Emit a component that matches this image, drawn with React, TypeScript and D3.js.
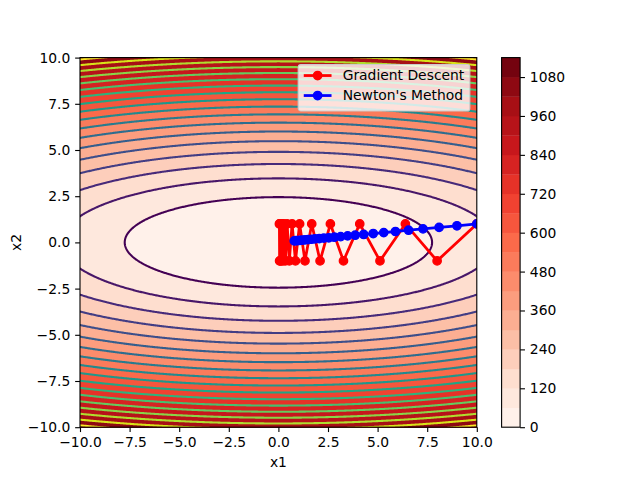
import React, { useEffect, useRef } from "react";
import * as d3 from "d3";

// objective f(x1, x2) = a*x1^2 + b*x2^2
const coefA = 1;
const coefB = 10;

const fillLevels = [0, 60, 120, 180, 240, 300, 360, 420, 480, 540, 600, 660, 720, 780, 840, 900, 960, 1020, 1080, 1140];
const lineLevels = [60, 120, 180, 240, 300, 360, 420, 480, 540, 600, 660, 720, 780, 840, 900, 960, 1020, 1080];
const axisTicks = [-10, -7.5, -5, -2.5, 0, 2.5, 5, 7.5, 10];
const cbarTicks = [0, 120, 240, 360, 480, 600, 720, 840, 960, 1080];

// gradient descent iterates
const gdX = [10, 8, 6.4, 5.12, 4.1, 3.28, 2.62, 2.1, 1.68, 1.34, 1.07, 0.86, 0.69, 0.55, 0.44, 0.35, 0.28, 0.23, 0.18, 0.14, 0.12, 0.09, 0.07, 0.06, 0.05];
const gdY = [1, -1, 1, -1, 1, -1, 1, -1, 1, -1, 1, -1, 1, -1, 1, -1, 1, -1, 1, -1, 1, -1, 1, -1, 1];

// newton's method iterates
const nmX = [10, 9, 8.1, 7.29, 6.56, 5.9, 5.31, 4.78, 4.3, 3.87, 3.49, 3.14, 2.82, 2.54, 2.29, 2.06, 1.85, 1.67, 1.5, 1.35, 1.22, 1.09, 0.98, 0.88, 0.8];
const nmY = [1, 0.9, 0.81, 0.73, 0.66, 0.59, 0.53, 0.48, 0.43, 0.39, 0.35, 0.31, 0.28, 0.25, 0.23, 0.21, 0.19, 0.17, 0.15, 0.14, 0.12, 0.11, 0.1, 0.09, 0.08];

const legendLabels = ["Gradient Descent", "Newton's Method"];
const legendColors = ["#ff0000", "#0000ff"];

const redsStops = ["#fff5f0", "#fee0d2", "#fcbba1", "#fc9272", "#fb6a4a", "#ef3b2c", "#cb181d", "#a50f15", "#67000d"];

const FONT = "DejaVu Sans";
const FS = 13.89;

const App: React.FC = () => {
    const svgRef = useRef<SVGSVGElement>(null);

    useEffect(() => {
        if (!svgRef.current) return;
        const svg = d3.select(svgRef.current);
        svg.selectAll("*").remove();

        const left = 80, right = 476.8, top = 57.6, bottom = 427.2;
        const x = d3.scaleLinear().domain([-10, 10]).range([left, right]);
        const y = d3.scaleLinear().domain([-10, 10]).range([bottom, top]);

        const reds = d3
            .scaleLinear<string>()
            .domain(redsStops.map((_, i) => i / (redsStops.length - 1)))
            .range(redsStops)
            .interpolate(d3.interpolateRgb);
        const vmax = fillLevels[fillLevels.length - 1];
        const bandColor = (k: number) => reds((fillLevels[k] + fillLevels[k + 1]) / 2 / vmax);
        const lineColor = (l: number) =>
            d3.interpolateViridis((l - lineLevels[0]) / (lineLevels[lineLevels.length - 1] - lineLevels[0]));

        // sample the surface on a grid a bit larger than the axes, then clip
        const step = 0.05, lo = -10.5;
        const n = Math.round((-2 * lo) / step) + 1;
        const values: number[] = new Array(n * n);
        for (let j = 0; j < n; j++) {
            for (let i = 0; i < n; i++) {
                const a = lo + i * step, b = lo + j * step;
                values[j * n + i] = coefA * a * a + coefB * b * b;
            }
        }
        const gen = d3.contours().size([n, n]);
        const proj = d3.geoTransform({
            point(px: number, py: number) {
                (this as any).stream.point(x(lo + (px - 0.5) * step), y(lo + (py - 0.5) * step));
            },
        });
        const geo = d3.geoPath(proj);

        svg.append("defs")
            .append("clipPath")
            .attr("id", "axclip")
            .append("rect")
            .attr("x", left)
            .attr("y", top)
            .attr("width", right - left)
            .attr("height", bottom - top);

        const plot = svg.append("g").attr("clip-path", "url(#axclip)");

        // filled bands
        for (let k = 0; k < fillLevels.length - 1; k++) {
            plot.append("path")
                .attr("d", geo(gen.contour(values, fillLevels[k]) as any) || "")
                .attr("fill", bandColor(k))
                .attr("fill-rule", "evenodd");
        }

        // contour lines
        lineLevels.forEach((l) => {
            plot.append("path")
                .attr("d", geo(gen.contour(values, l) as any) || "")
                .attr("fill", "none")
                .attr("stroke", lineColor(l))
                .attr("stroke-width", 2.08);
        });

        // optimisation paths
        const drawPath = (xs: number[], ys: number[], color: string) => {
            const line = d3
                .line<number>()
                .x((i) => x(xs[i]))
                .y((i) => y(ys[i]));
            plot.append("path")
                .datum(d3.range(xs.length))
                .attr("d", line)
                .attr("fill", "none")
                .attr("stroke", color)
                .attr("stroke-width", 2.78)
                .attr("stroke-linejoin", "round");
            plot.append("g")
                .selectAll("circle")
                .data(d3.range(xs.length))
                .join("circle")
                .attr("cx", (i) => x(xs[i]))
                .attr("cy", (i) => y(ys[i]))
                .attr("r", 4.17)
                .attr("fill", color)
                .attr("stroke", color)
                .attr("stroke-width", 1.39);
        };
        drawPath(gdX, gdY, legendColors[0]);
        drawPath(nmX, nmY, legendColors[1]);

        // spines
        svg.append("rect")
            .attr("x", left)
            .attr("y", top)
            .attr("width", right - left)
            .attr("height", bottom - top)
            .attr("fill", "none")
            .attr("stroke", "black")
            .attr("stroke-width", 1.11);

        const fmt = (v: d3.NumberValue) => d3.format(".1f")(+v).replace("-", "\u2212");
        const styleAxis = (g: d3.Selection<SVGGElement, unknown, null, undefined>) => {
            g.select(".domain").remove();
            g.attr("font-size", FS).attr("font-family", FONT);
            g.selectAll("line").attr("stroke", "black").attr("stroke-width", 1.11);
            g.selectAll("text").attr("fill", "black");
        };

        svg.append("g")
            .attr("transform", `translate(0,${bottom})`)
            .call(d3.axisBottom(x).tickValues(axisTicks).tickFormat(fmt).tickSizeInner(4.86).tickSizeOuter(0).tickPadding(4.86))
            .call(styleAxis);

        svg.append("g")
            .attr("transform", `translate(${left},0)`)
            .call(d3.axisLeft(y).tickValues(axisTicks).tickFormat(fmt).tickSizeInner(4.86).tickSizeOuter(0).tickPadding(4.86))
            .call(styleAxis);

        svg.append("text")
            .attr("x", (left + right) / 2)
            .attr("y", 466.5)
            .attr("text-anchor", "middle")
            .attr("font-family", FONT)
            .attr("font-size", FS)
            .text("x1");

        svg.append("text")
            .attr("transform", `translate(20.5,${(top + bottom) / 2}) rotate(-90)`)
            .attr("text-anchor", "middle")
            .attr("font-family", FONT)
            .attr("font-size", FS)
            .text("x2");

        // legend
        const lg = svg.append("g");
        const frame = lg.append("rect");
        const rowY = [0, 20];
        const texts = legendLabels.map((label, i) =>
            lg.append("text")
                .attr("y", rowY[i] + FS * 0.35)
                .attr("font-family", FONT)
                .attr("font-size", FS)
                .text(label)
        );
        const textW = d3.max(texts, (t) => (t.node() as SVGTextElement).getComputedTextLength()) || 120;
        const pad = 0.4 * FS, handleLen = 2 * FS, handlePad = 0.8 * FS;
        const boxW = pad * 2 + handleLen + handlePad + textW;
        const boxH = 46.5;
        const boxRight = right - 0.5 * FS;
        const boxLeft = boxRight - boxW;
        const boxTop = top + 0.5 * FS;
        lg.attr("transform", `translate(${boxLeft},${boxTop + 11})`);
        frame
            .attr("x", 0)
            .attr("y", -11)
            .attr("width", boxW)
            .attr("height", boxH)
            .attr("rx", 2.8)
            .attr("fill", "white")
            .attr("fill-opacity", 0.8)
            .attr("stroke", "#cccccc")
            .attr("stroke-width", 1.11);
        texts.forEach((t) => t.attr("x", pad + handleLen + handlePad));
        legendColors.forEach((c, i) => {
            lg.append("line")
                .attr("x1", pad)
                .attr("x2", pad + handleLen)
                .attr("y1", rowY[i])
                .attr("y2", rowY[i])
                .attr("stroke", c)
                .attr("stroke-width", 2.78);
            lg.append("circle")
                .attr("cx", pad + handleLen / 2)
                .attr("cy", rowY[i])
                .attr("r", 4.17)
                .attr("fill", c)
                .attr("stroke", c)
                .attr("stroke-width", 1.39);
        });

        // colorbar
        const cbLeft = 501.6, cbW = 18.5;
        const cy = d3.scaleLinear().domain([0, vmax]).range([bottom, top]);
        const cb = svg.append("g");
        for (let k = 0; k < fillLevels.length - 1; k++) {
            cb.append("rect")
                .attr("x", cbLeft)
                .attr("y", cy(fillLevels[k + 1]))
                .attr("width", cbW)
                .attr("height", cy(fillLevels[k]) - cy(fillLevels[k + 1]) + 0.3)
                .attr("fill", bandColor(k));
        }
        cb.append("rect")
            .attr("x", cbLeft)
            .attr("y", top)
            .attr("width", cbW)
            .attr("height", bottom - top)
            .attr("fill", "none")
            .attr("stroke", "black")
            .attr("stroke-width", 1.11);
        svg.append("g")
            .attr("transform", `translate(${cbLeft + cbW},0)`)
            .call(d3.axisRight(cy).tickValues(cbarTicks).tickFormat(d3.format("d")).tickSizeInner(4.86).tickSizeOuter(0).tickPadding(4.86))
            .call(styleAxis);
    }, []);

    return (
        <svg
            ref={svgRef}
            width={640}
            height={480}
            style={{ position: "absolute", left: 0, top: 0, background: "white" }}
        ></svg>
    );
};

export default App;
